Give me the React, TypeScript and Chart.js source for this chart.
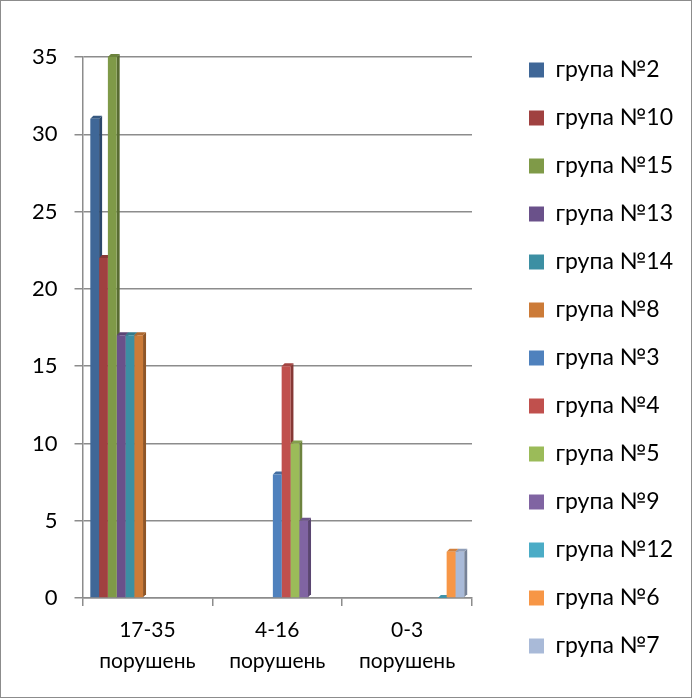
import React, { useEffect, useRef } from "react";
import { Chart, registerables } from "chart.js";

Chart.register(...registerables);

const categories = [
  ["17-35", "порушень"],
  ["4-16", "порушень"],
  ["0-3", "порушень"],
];

const seriesNames = [
  "група №2", "група №10", "група №15", "група №13", "група №14", "група №8",
  "група №3", "група №4", "група №5", "група №9", "група №12", "група №6", "група №7",
];

const group2 = [31, null, null];
const group10 = [22, null, null];
const group15 = [35, null, null];
const group13 = [17, null, null];
const group14 = [17, null, null];
const group8 = [17, null, null];
const group3 = [null, 8, null];
const group4 = [null, 15, null];
const group5 = [null, 10, null];
const group9 = [null, 5, null];
const group12 = [null, null, 0];
const group6 = [null, null, 3];
const group7 = [null, null, 3];

const seriesValues = [
  group2, group10, group15, group13, group14, group8,
  group3, group4, group5, group9, group12, group6, group7,
];

const seriesColors = [
  "#3F6797", "#A04140", "#7F9A48", "#6A518A", "#3C8FA3", "#CC7B38",
  "#4F81BD", "#C0504D", "#9BBB59", "#8064A2", "#4BACC6", "#F79646", "#A9BAD8",
];

const yTicks = [0, 5, 10, 15, 20, 25, 30, 35];

const FONT = "Lato, 'Open Sans', sans-serif";

function shade(hex: string, f: number): string {
  const n = parseInt(hex.slice(1), 16);
  const r = Math.round(((n >> 16) & 255) * f);
  const g = Math.round(((n >> 8) & 255) * f);
  const b = Math.round((n & 255) * f);
  return `rgb(${Math.min(255, r)},${Math.min(255, g)},${Math.min(255, b)})`;
}

const bar3d = {
  id: "bar3d",
  beforeDatasetsDraw(chart: any) {
    const ctx = chart.ctx;
    const dx = 3;
    const dy = 3;
    chart.data.datasets.forEach((ds: any, di: number) => {
      const meta = chart.getDatasetMeta(di);
      meta.data.forEach((el: any, i: number) => {
        const v = ds.data[i];
        if (v === null || v === undefined) return;
        const { x, y, base, width } = el.getProps(["x", "y", "base", "width"], true);
        const x1 = x - width / 2;
        const x2 = x + width / 2;
        const color = seriesColors[di];
        ctx.save();
        ctx.fillStyle = shade(color, 0.7);
        ctx.beginPath();
        ctx.moveTo(x2, y);
        ctx.lineTo(x2 + dx, y - dy);
        ctx.lineTo(x2 + dx, base - dy);
        ctx.lineTo(x2, base);
        ctx.closePath();
        ctx.fill();
        ctx.fillStyle = shade(color, 0.85);
        ctx.beginPath();
        ctx.moveTo(x1, y);
        ctx.lineTo(x1 + dx, y - dy);
        ctx.lineTo(x2 + dx, y - dy);
        ctx.lineTo(x2, y);
        ctx.closePath();
        ctx.fill();
        ctx.restore();
      });
    });
  },
};

export default function App() {
  const canvasRef = useRef<HTMLCanvasElement | null>(null);

  useEffect(() => {
    if (!canvasRef.current) return;
    const chart = new Chart(canvasRef.current, {
      type: "bar",
      data: {
        labels: categories,
        datasets: seriesNames.map((name, i) => ({
          label: name,
          data: seriesValues[i],
          backgroundColor: seriesColors[i],
          borderWidth: 0,
          categoryPercentage: 0.88,
          barPercentage: 1.0,
        })),
      },
      plugins: [bar3d],
      options: {
        animation: false,
        responsive: false,
        maintainAspectRatio: false,
        layout: { padding: { left: 14, top: 30, right: 8, bottom: 12 } },
        plugins: {
          tooltip: { enabled: false },
          legend: {
            position: "right",
            align: "center",
            maxWidth: 240,
            labels: {
              boxWidth: 15,
              boxHeight: 15,
              padding: 25,
              color: "#000",
              font: { family: FONT, size: 23 },
            },
          },
        },
        scales: {
          x: {
            grid: {
              display: true,
              offset: true,
              drawOnChartArea: false,
              drawTicks: true,
              tickLength: 8,
              color: "#8c8c8c",
              lineWidth: 1.5,
            },
            border: { color: "#8c8c8c", width: 1.5 },
            ticks: {
              color: "#000",
              font: { family: FONT, size: 21, lineHeight: 1.45 },
              padding: 9,
              maxRotation: 0,
            },
          },
          xTop: {
            type: "category",
            position: "top",
            grid: { display: false },
            border: { display: false },
            ticks: { display: false },
            afterFit: (s: any) => {
              s.height = 26;
            },
          },
          y: {
            min: 0,
            max: 35,
            afterBuildTicks: (axis: any) => {
              axis.ticks = yTicks.map((v) => ({ value: v }));
            },
            grid: {
              color: "#8c8c8c",
              lineWidth: 1.5,
              tickLength: 8,
            },
            border: { color: "#8c8c8c", width: 1.5 },
            ticks: {
              color: "#000",
              font: { family: FONT, size: 22 },
              padding: 17,
            },
          },
          yRight: {
            position: "right",
            grid: { display: false },
            border: { display: false },
            ticks: { display: false },
            afterFit: (s: any) => {
              s.width = 32;
            },
          },
        },
      },
    });
    return () => chart.destroy();
  }, []);

  return (
    <div
      style={{
        position: "absolute",
        left: 0,
        top: 0,
        width: 690,
        height: 696,
        border: "1px solid #8c8c8c",
        background: "#fff",
      }}
    >
      <canvas ref={canvasRef} width={690} height={696} style={{ display: "block" }} />
    </div>
  );
}
